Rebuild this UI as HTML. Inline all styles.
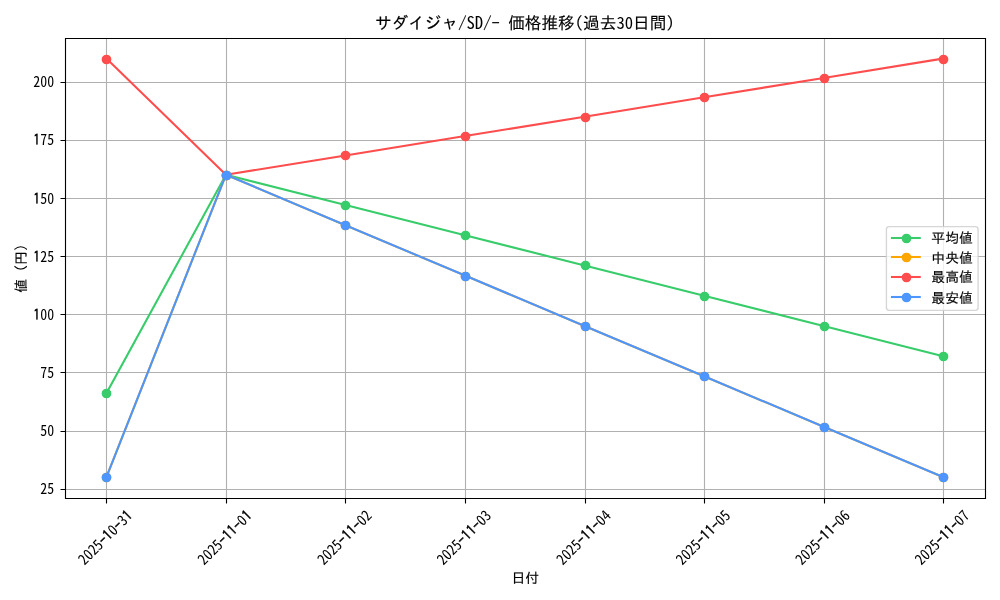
<!DOCTYPE html>
<html><head><meta charset="utf-8"><title>サダイジャ/SD/- 価格推移</title>
<style>html,body{margin:0;padding:0;background:#fff;width:1000px;height:600px;overflow:hidden}svg{display:block}</style>
</head><body>
<svg width="1000" height="600" viewBox="0 0 1000 600">
<defs><clipPath id="ax"><rect x="64.56" y="37.63" width="920.46" height="460.33"/></clipPath></defs>
<rect x="0" y="0" width="1000" height="600" fill="#ffffff"/>
<path d="M106.50 38.50V498.50 M226.50 38.50V498.50 M345.50 38.50V498.50 M465.50 38.50V498.50 M585.50 38.50V498.50 M704.50 38.50V498.50 M824.50 38.50V498.50 M943.50 38.50V498.50 M65.50 82.50H985.50 M65.50 140.50H985.50 M65.50 198.50H985.50 M65.50 256.50H985.50 M65.50 314.50H985.50 M65.50 372.50H985.50 M65.50 431.50H985.50 M65.50 489.50H985.50" fill="none" stroke="#b0b0b0" stroke-width="1.111"/>
<g clip-path="url(#ax)">
<polyline points="106.40,393.34 225.94,174.80 345.48,205.03 465.02,235.25 584.56,265.47 704.10,295.70 823.64,325.92 943.18,356.15" fill="none" stroke="#38cc6a" stroke-width="2.083" stroke-linejoin="round" stroke-linecap="square"/>
<circle cx="106.50" cy="393.50" r="4.167" fill="#38cc6a" stroke="#38cc6a" stroke-width="1.389"/>
<circle cx="226.50" cy="175.50" r="4.167" fill="#38cc6a" stroke="#38cc6a" stroke-width="1.389"/>
<circle cx="345.50" cy="205.50" r="4.167" fill="#38cc6a" stroke="#38cc6a" stroke-width="1.389"/>
<circle cx="465.50" cy="235.50" r="4.167" fill="#38cc6a" stroke="#38cc6a" stroke-width="1.389"/>
<circle cx="585.50" cy="265.50" r="4.167" fill="#38cc6a" stroke="#38cc6a" stroke-width="1.389"/>
<circle cx="704.50" cy="296.50" r="4.167" fill="#38cc6a" stroke="#38cc6a" stroke-width="1.389"/>
<circle cx="824.50" cy="326.50" r="4.167" fill="#38cc6a" stroke="#38cc6a" stroke-width="1.389"/>
<circle cx="943.50" cy="356.50" r="4.167" fill="#38cc6a" stroke="#38cc6a" stroke-width="1.389"/>
<polyline points="106.40,477.04 225.94,174.80 345.48,225.18 465.02,275.55 584.56,325.92 704.10,376.30 823.64,426.67 943.18,477.04" fill="none" stroke="#ffa500" stroke-width="2.083" stroke-linejoin="round" stroke-linecap="square"/>
<circle cx="106.50" cy="477.50" r="4.167" fill="#ffa500" stroke="#ffa500" stroke-width="1.389"/>
<circle cx="226.50" cy="175.50" r="4.167" fill="#ffa500" stroke="#ffa500" stroke-width="1.389"/>
<circle cx="345.50" cy="225.50" r="4.167" fill="#ffa500" stroke="#ffa500" stroke-width="1.389"/>
<circle cx="465.50" cy="276.50" r="4.167" fill="#ffa500" stroke="#ffa500" stroke-width="1.389"/>
<circle cx="585.50" cy="326.50" r="4.167" fill="#ffa500" stroke="#ffa500" stroke-width="1.389"/>
<circle cx="704.50" cy="376.50" r="4.167" fill="#ffa500" stroke="#ffa500" stroke-width="1.389"/>
<circle cx="824.50" cy="427.50" r="4.167" fill="#ffa500" stroke="#ffa500" stroke-width="1.389"/>
<circle cx="943.50" cy="477.50" r="4.167" fill="#ffa500" stroke="#ffa500" stroke-width="1.389"/>
<polyline points="106.40,58.56 225.94,174.80 345.48,155.43 465.02,136.05 584.56,116.68 704.10,97.31 823.64,77.93 943.18,58.56" fill="none" stroke="#ff4d4d" stroke-width="2.083" stroke-linejoin="round" stroke-linecap="square"/>
<circle cx="106.50" cy="59.50" r="4.167" fill="#ff4d4d" stroke="#ff4d4d" stroke-width="1.389"/>
<circle cx="226.50" cy="175.50" r="4.167" fill="#ff4d4d" stroke="#ff4d4d" stroke-width="1.389"/>
<circle cx="345.50" cy="155.50" r="4.167" fill="#ff4d4d" stroke="#ff4d4d" stroke-width="1.389"/>
<circle cx="465.50" cy="136.50" r="4.167" fill="#ff4d4d" stroke="#ff4d4d" stroke-width="1.389"/>
<circle cx="585.50" cy="117.50" r="4.167" fill="#ff4d4d" stroke="#ff4d4d" stroke-width="1.389"/>
<circle cx="704.50" cy="97.50" r="4.167" fill="#ff4d4d" stroke="#ff4d4d" stroke-width="1.389"/>
<circle cx="824.50" cy="78.50" r="4.167" fill="#ff4d4d" stroke="#ff4d4d" stroke-width="1.389"/>
<circle cx="943.50" cy="59.50" r="4.167" fill="#ff4d4d" stroke="#ff4d4d" stroke-width="1.389"/>
<polyline points="106.40,477.04 225.94,174.80 345.48,225.18 465.02,275.55 584.56,325.92 704.10,376.30 823.64,426.67 943.18,477.04" fill="none" stroke="#4d96ff" stroke-width="2.083" stroke-linejoin="round" stroke-linecap="square"/>
<circle cx="106.50" cy="477.50" r="4.167" fill="#4d96ff" stroke="#4d96ff" stroke-width="1.389"/>
<circle cx="226.50" cy="175.50" r="4.167" fill="#4d96ff" stroke="#4d96ff" stroke-width="1.389"/>
<circle cx="345.50" cy="225.50" r="4.167" fill="#4d96ff" stroke="#4d96ff" stroke-width="1.389"/>
<circle cx="465.50" cy="276.50" r="4.167" fill="#4d96ff" stroke="#4d96ff" stroke-width="1.389"/>
<circle cx="585.50" cy="326.50" r="4.167" fill="#4d96ff" stroke="#4d96ff" stroke-width="1.389"/>
<circle cx="704.50" cy="376.50" r="4.167" fill="#4d96ff" stroke="#4d96ff" stroke-width="1.389"/>
<circle cx="824.50" cy="427.50" r="4.167" fill="#4d96ff" stroke="#4d96ff" stroke-width="1.389"/>
<circle cx="943.50" cy="477.50" r="4.167" fill="#4d96ff" stroke="#4d96ff" stroke-width="1.389"/>
</g>
<path d="M65.5 38.5H985.5V498.5H65.5Z" fill="none" stroke="#000" stroke-width="1.111" stroke-linejoin="miter"/>
<path d="M106.50 498.50v5.000 M226.50 498.50v5.000 M345.50 498.50v5.000 M465.50 498.50v5.000 M585.50 498.50v5.000 M704.50 498.50v5.000 M824.50 498.50v5.000 M943.50 498.50v5.000 M65.50 82.50h-5.000 M65.50 140.50h-5.000 M65.50 198.50h-5.000 M65.50 256.50h-5.000 M65.50 314.50h-5.000 M65.50 372.50h-5.000 M65.50 431.50h-5.000 M65.50 489.50h-5.000" fill="none" stroke="#000" stroke-width="1.111"/>
<g fill="#000" style="font-family:'IPAGothic',sans-serif" stroke="#000" stroke-width="0.15">
<text transform="translate(84.58 565.67) rotate(-45.0) scale(1 1.080)" font-size="13.889" style="font-family:'Noto Sans CJK JP',sans-serif;font-feature-settings:'hwid' 1" stroke="none">2025<tspan style="font-family:'IPAGothic',sans-serif" stroke="#000" stroke-width="0.35">-1</tspan>0<tspan style="font-family:'IPAGothic',sans-serif" stroke="#000" stroke-width="0.35">-</tspan>3<tspan style="font-family:'IPAGothic',sans-serif" stroke="#000" stroke-width="0.35">1</tspan></text>
<text transform="translate(204.12 565.67) rotate(-45.0) scale(1 1.080)" font-size="13.889" style="font-family:'Noto Sans CJK JP',sans-serif;font-feature-settings:'hwid' 1" stroke="none">2025<tspan style="font-family:'IPAGothic',sans-serif" stroke="#000" stroke-width="0.35">-11-</tspan>0<tspan style="font-family:'IPAGothic',sans-serif" stroke="#000" stroke-width="0.35">1</tspan></text>
<text transform="translate(323.66 565.67) rotate(-45.0) scale(1 1.080)" font-size="13.889" style="font-family:'Noto Sans CJK JP',sans-serif;font-feature-settings:'hwid' 1" stroke="none">2025<tspan style="font-family:'IPAGothic',sans-serif" stroke="#000" stroke-width="0.35">-11-</tspan>02</text>
<text transform="translate(443.20 565.67) rotate(-45.0) scale(1 1.080)" font-size="13.889" style="font-family:'Noto Sans CJK JP',sans-serif;font-feature-settings:'hwid' 1" stroke="none">2025<tspan style="font-family:'IPAGothic',sans-serif" stroke="#000" stroke-width="0.35">-11-</tspan>03</text>
<text transform="translate(562.74 565.67) rotate(-45.0) scale(1 1.080)" font-size="13.889" style="font-family:'Noto Sans CJK JP',sans-serif;font-feature-settings:'hwid' 1" stroke="none">2025<tspan style="font-family:'IPAGothic',sans-serif" stroke="#000" stroke-width="0.35">-11-</tspan>04</text>
<text transform="translate(682.28 565.67) rotate(-45.0) scale(1 1.080)" font-size="13.889" style="font-family:'Noto Sans CJK JP',sans-serif;font-feature-settings:'hwid' 1" stroke="none">2025<tspan style="font-family:'IPAGothic',sans-serif" stroke="#000" stroke-width="0.35">-11-</tspan>05</text>
<text transform="translate(801.82 565.67) rotate(-45.0) scale(1 1.080)" font-size="13.889" style="font-family:'Noto Sans CJK JP',sans-serif;font-feature-settings:'hwid' 1" stroke="none">2025<tspan style="font-family:'IPAGothic',sans-serif" stroke="#000" stroke-width="0.35">-11-</tspan>06</text>
<text transform="translate(921.36 565.67) rotate(-45.0) scale(1 1.080)" font-size="13.889" style="font-family:'Noto Sans CJK JP',sans-serif;font-feature-settings:'hwid' 1" stroke="none">2025<tspan style="font-family:'IPAGothic',sans-serif" stroke="#000" stroke-width="0.35">-11-</tspan>07</text>
<text transform="translate(525.29 582.57)" font-size="13.889" text-anchor="middle">日付</text>
<text transform="translate(54.14 494.28) scale(1 1.070)" font-size="13.889" text-anchor="end" style="font-family:'Noto Sans CJK JP',sans-serif;font-feature-settings:'hwid' 1" stroke="none">25</text>
<text transform="translate(54.14 436.16) scale(1 1.070)" font-size="13.889" text-anchor="end" style="font-family:'Noto Sans CJK JP',sans-serif;font-feature-settings:'hwid' 1" stroke="none">50</text>
<text transform="translate(54.14 378.04) scale(1 1.070)" font-size="13.889" text-anchor="end" style="font-family:'Noto Sans CJK JP',sans-serif;font-feature-settings:'hwid' 1" stroke="none">75</text>
<text transform="translate(54.14 319.91) scale(1 1.070)" font-size="13.889" text-anchor="end" style="font-family:'Noto Sans CJK JP',sans-serif;font-feature-settings:'hwid' 1" stroke="none"><tspan style="font-family:'IPAGothic',sans-serif" stroke="#000" stroke-width="0.35">1</tspan>00</text>
<text transform="translate(54.14 261.79) scale(1 1.070)" font-size="13.889" text-anchor="end" style="font-family:'Noto Sans CJK JP',sans-serif;font-feature-settings:'hwid' 1" stroke="none"><tspan style="font-family:'IPAGothic',sans-serif" stroke="#000" stroke-width="0.35">1</tspan>25</text>
<text transform="translate(54.14 203.67) scale(1 1.070)" font-size="13.889" text-anchor="end" style="font-family:'Noto Sans CJK JP',sans-serif;font-feature-settings:'hwid' 1" stroke="none"><tspan style="font-family:'IPAGothic',sans-serif" stroke="#000" stroke-width="0.35">1</tspan>50</text>
<text transform="translate(54.14 144.54) scale(1 1.070)" font-size="13.889" text-anchor="end" style="font-family:'Noto Sans CJK JP',sans-serif;font-feature-settings:'hwid' 1" stroke="none"><tspan style="font-family:'IPAGothic',sans-serif" stroke="#000" stroke-width="0.35">1</tspan>75</text>
<text transform="translate(54.14 87.42) scale(1 1.070)" font-size="13.889" text-anchor="end" style="font-family:'Noto Sans CJK JP',sans-serif;font-feature-settings:'hwid' 1" stroke="none">200</text>
<text transform="translate(25.76 268.40) rotate(-90.0)" font-size="13.889" text-anchor="middle">値 (円)</text>
<text transform="translate(524.79 29.30)" font-size="16.667" text-anchor="middle">サダイジャ/<tspan style="font-family:'Noto Sans CJK JP',sans-serif;font-feature-settings:'hwid' 1" stroke="none">SD</tspan>/- 価格推移(過去<tspan style="font-family:'Noto Sans CJK JP',sans-serif;font-feature-settings:'hwid' 1" stroke="none">30</tspan>日間)</text>
</g>
<rect x="886.41" y="226.60" width="91.67" height="83.80" rx="2.78" fill="#ffffff" fill-opacity="0.8" stroke="#cccccc" stroke-opacity="0.8" stroke-width="1.389"/>
<path d="M891.96 238.00H919.74" stroke="#38cc6a" stroke-width="2.083" stroke-linecap="square"/>
<circle cx="906.50" cy="238.50" r="4.167" fill="#38cc6a" stroke="#38cc6a" stroke-width="1.389"/>
<path d="M891.96 257.00H919.74" stroke="#ffa500" stroke-width="2.083" stroke-linecap="square"/>
<circle cx="906.50" cy="257.50" r="4.167" fill="#ffa500" stroke="#ffa500" stroke-width="1.389"/>
<path d="M891.96 277.00H919.74" stroke="#ff4d4d" stroke-width="2.083" stroke-linecap="square"/>
<circle cx="906.50" cy="277.50" r="4.167" fill="#ff4d4d" stroke="#ff4d4d" stroke-width="1.389"/>
<path d="M891.96 297.00H919.74" stroke="#4d96ff" stroke-width="2.083" stroke-linecap="square"/>
<circle cx="906.50" cy="297.50" r="4.167" fill="#4d96ff" stroke="#4d96ff" stroke-width="1.389"/>
<g fill="#000" style="font-family:'IPAGothic',sans-serif" stroke="#000" stroke-width="0.15">
<text transform="translate(931.35 243.38)" font-size="13.889">平均値</text>
<text transform="translate(931.35 263.15)" font-size="13.889">中央値</text>
<text transform="translate(931.35 281.71)" font-size="13.889">最高値</text>
<text transform="translate(931.35 303.17)" font-size="13.889">最安値</text>
</g>
</svg>
</body></html>
